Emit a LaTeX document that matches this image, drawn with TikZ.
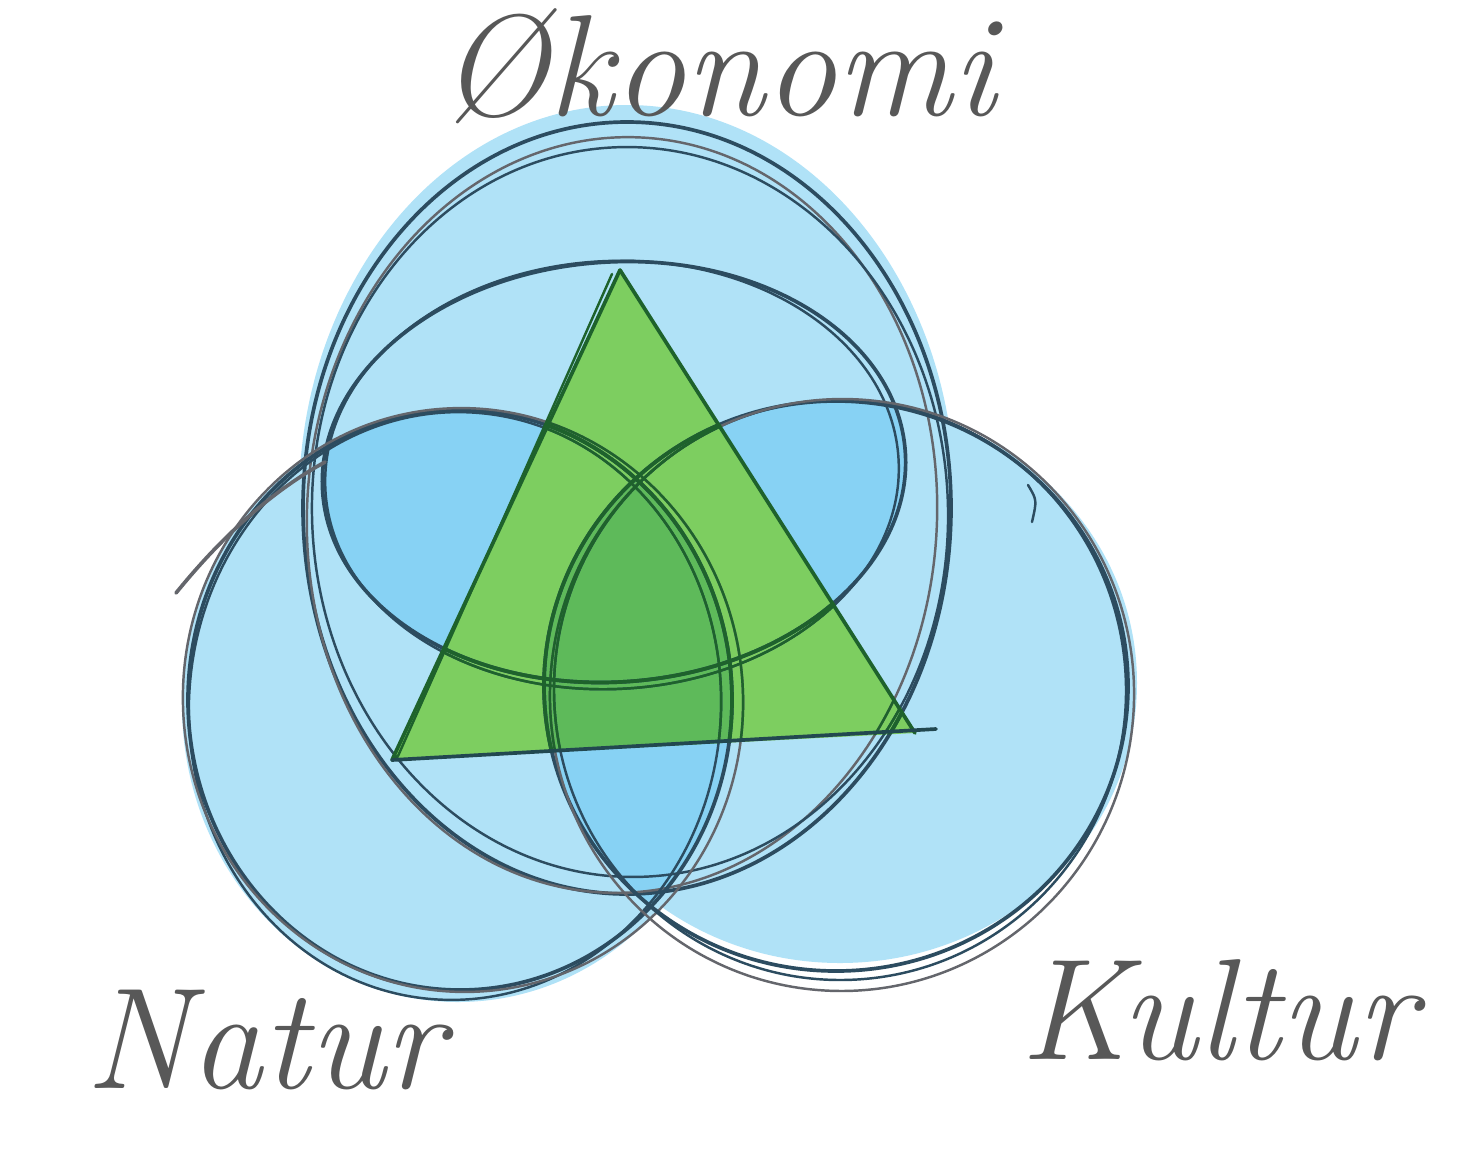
\documentclass[tikz,border=0pt]{standalone}
\usepackage{fontspec}
\definecolor{lblue}{RGB}{176,226,247}
\definecolor{dblue}{RGB}{135,210,244}
\definecolor{lgreen}{RGB}{125,206,96}
\definecolor{dgreen}{RGB}{94,186,90}
\definecolor{ink}{RGB}{44,76,96}
\definecolor{inkgray}{RGB}{100,102,108}
\definecolor{inkgreen}{RGB}{30,98,44}
\definecolor{inkteal}{RGB}{34,72,80}
\definecolor{txt}{RGB}{88,88,88}
\tikzset{
  pen/.style={line width=2.1pt, line cap=round},
  thinpen/.style={line width=1.4pt, line cap=round},
  lab/.style={font=\fontsize{82}{90}\selectfont\itshape, text=txt, inner sep=0pt},
}
\newcommand{\sketchlines}[2]{%
  % Oekonomi (inner) ellipse
  \draw[pen,#1,rotate around={4:(614,472)}] (614,472) ellipse [x radius=292, y radius=210];
  \draw[thinpen,#1,rotate around={3:(612,475)}] (612,475) ellipse [x radius=287, y radius=214];
  % tall outer loop
  \draw[pen,#1] (627,508) ellipse [x radius=324, y radius=386];
  \draw[thinpen,#2,rotate around={-3:(622,515)}] (622,515) ellipse [x radius=315, y radius=378];
  \draw[thinpen,#1,rotate around={2:(630,512)}] (630,512) ellipse [x radius=318, y radius=365];
  % Natur
  \draw[pen,#1] (460,700) ellipse [x radius=272, y radius=290];
  \draw[thinpen,#1,rotate around={-4:(455,706)}] (455,706) ellipse [x radius=266, y radius=294];
  \draw[thinpen,#2,rotate around={5:(463,700)}] (463,700) ellipse [x radius=280, y radius=292];
  % Kultur
  \draw[pen,#1] (836,686) ellipse [x radius=292, y radius=285];
  \draw[thinpen,#1,rotate around={3:(840,690)}] (840,690) ellipse [x radius=286, y radius=290];
  \draw[thinpen,#2,rotate around={-6:(842,695)}] (842,695) ellipse [x radius=292, y radius=296];
}
\begin{document}
\begin{tikzpicture}[x=0.02cm,y=-0.02cm]
\useasboundingbox (0,0) rectangle (1475,1161);
\fill[white] (0,0) rectangle (1475,1161);

% light blue fills
\fill[lblue] (627,500) ellipse [x radius=328, y radius=395];
\fill[lblue] (458,705) ellipse [x radius=276, y radius=297];
\fill[lblue] (840,683) ellipse [x radius=297, y radius=280];

% darker blue pairwise overlaps
\begin{scope}
  \clip[rotate around={4:(614,472)}] (614,472) ellipse [x radius=292, y radius=210];
  \fill[dblue] (460,700) ellipse [x radius=272, y radius=290];
  \fill[dblue] (836,686) ellipse [x radius=292, y radius=285];
\end{scope}
\begin{scope}
  \clip (460,700) ellipse [x radius=272, y radius=290];
  \fill[dblue] (836,686) ellipse [x radius=292, y radius=285];
\end{scope}

% triangle
\coordinate (A) at (620,270);
\coordinate (B) at (392,760);
\coordinate (C) at (915,733);
\coordinate (A2) at (612,274);
\coordinate (B2) at (398,756);
\coordinate (C2) at (936,729);
\fill[lgreen] (A) -- (B) -- (C) -- cycle;
\begin{scope}
  \clip (A) -- (B) -- (C) -- cycle;
  \clip (460,700) ellipse [x radius=272, y radius=290];
  \fill[dgreen] (836,686) ellipse [x radius=292, y radius=285];
\end{scope}

% sketch strokes
\sketchlines{ink}{inkgray}
\begin{scope}
  \clip (A) -- (B) -- (C) -- cycle;
  \sketchlines{inkgreen}{inkgreen}
\end{scope}
\draw[pen,inkgray] (176,593) .. controls (215,545) and (265,495) .. (325,462);
\draw[thinpen,ink] (1028,485) .. controls (1037,500) .. (1032,522);

% triangle outline
\draw[pen,inkgreen] (A) -- (B);
\draw[thinpen,inkgreen] (A2) -- (B2);
\draw[pen,inkgreen] (A) -- (C);
\draw[pen,inkteal] (B) -- (C2);

% labels
\node[lab] (oko) at (718,66) {Økonomi};
\node[lab] (nat) at (265,1040) {Natur};
\node[lab] (kul) at (1218,1010) {Kultur};
\end{tikzpicture}
\end{document}
